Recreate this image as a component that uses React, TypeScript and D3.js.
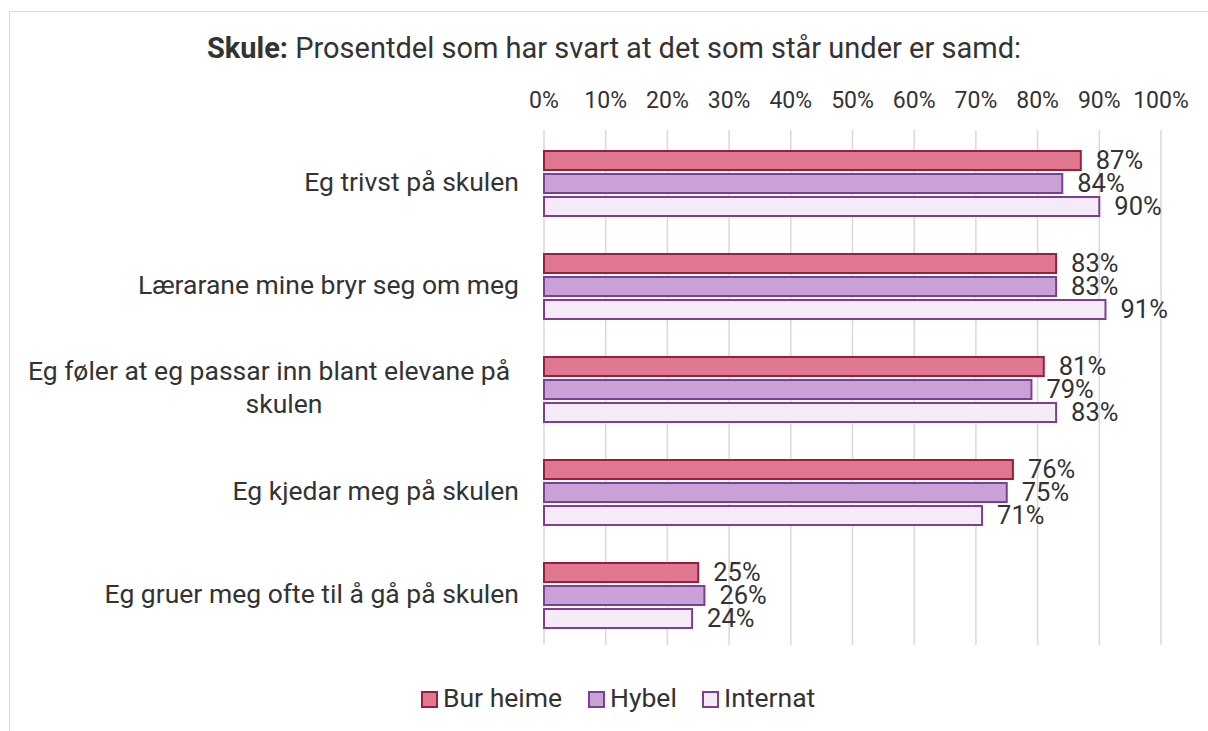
import React from 'react';
import * as d3 from 'd3';

const categories = [
  ['Eg trivst på skulen'],
  ['Lærarane mine bryr seg om meg'],
  ['Eg føler at eg passar inn blant elevane på', 'skulen'],
  ['Eg kjedar meg på skulen'],
  ['Eg gruer meg ofte til å gå på skulen'],
];
const seriesNames = ['Bur heime', 'Hybel', 'Internat'];
const burHeime = [0.87, 0.83, 0.81, 0.76, 0.25];
const hybel = [0.84, 0.83, 0.79, 0.75, 0.26];
const internat = [0.9, 0.91, 0.83, 0.71, 0.24];
const ticks = [0, 0.1, 0.2, 0.3, 0.4, 0.5, 0.6, 0.7, 0.8, 0.9, 1];

const fills = ['#e07790', '#c9a1d7', '#f5ebf8'];
const strokes = ['#9a1f3d', '#7d3f96', '#7d3f96'];

const font = 'Roboto, sans-serif';
const textColor = '#333333';

export default function App() {
  const width = 1208;
  const height = 731;
  const values = [burHeime, hybel, internat];

  const xScale = d3.scaleLinear().domain([0, 1]).range([544, 1161]);
  const yScale = d3.scaleBand<number>()
    .domain(d3.range(categories.length))
    .range([130, 645]);
  const inner = d3.scaleBand<number>()
    .domain(d3.range(seriesNames.length))
    .range([2, yScale.bandwidth() + 2])
    .paddingInner(0.174)
    .paddingOuter(0.826);
  const pct = d3.format('.0%');

  // legend swatch / label positions
  const legendX = [422, 589, 703];

  return (
    <svg width={width} height={height} style={{ position: 'absolute', left: 0, top: 0 }}>
      <rect x={0} y={0} width={width} height={height} fill="#fff" />
      <rect x={9.5} y={11.5} width={width + 20} height={height + 20} fill="#fff" stroke="#d9d9d9" />

      <text x={614} y={58} textAnchor="middle" fontFamily={font} fontSize={29} fill={textColor}>
        <tspan fontWeight="bold">Skule:</tspan> Prosentdel som har svart at det som står under er samd:
      </text>

      {ticks.map((t) => (
        <g key={t}>
          <line x1={xScale(t)} x2={xScale(t)} y1={130} y2={645} stroke="#d9d9d9" strokeWidth={1.5} />
          <text x={xScale(t)} y={108} textAnchor="middle" fontFamily={font} fontSize={23} fill={textColor}>
            {pct(t)}
          </text>
        </g>
      ))}

      {categories.map((lines, i) => {
        const cy = (yScale(i) ?? 0) + yScale.bandwidth() / 2;
        if (lines.length === 1) {
          return (
            <text key={i} x={519} y={cy} dy="0.35em" textAnchor="end" fontFamily={font} fontSize={26.5} fill={textColor}>
              {lines[0]}
            </text>
          );
        }
        return (
          <text key={i} y={cy - 16.5} textAnchor="middle" fontFamily={font} fontSize={26.5} fill={textColor}>
            {lines.map((l, j) => (
              <tspan key={j} x={j === 0 ? 269 : 284} dy={j === 0 ? '0.35em' : 33}>{l}</tspan>
            ))}
          </text>
        );
      })}

      {values.map((series, s) => (
        <g key={s}>
          {series.map((v, i) => {
            const y = (yScale(i) ?? 0) + (inner(s) ?? 0);
            return (
              <g key={i}>
                <rect
                  x={xScale(0)}
                  y={y}
                  width={xScale(v) - xScale(0)}
                  height={inner.bandwidth()}
                  fill={fills[s]}
                  stroke={strokes[s]}
                  strokeWidth={2}
                />
                <text
                  x={xScale(v) + 15}
                  y={y + inner.bandwidth() / 2}
                  dy="0.35em"
                  fontFamily={font}
                  fontSize={25.5}
                  fill={textColor}
                >
                  {pct(v)}
                </text>
              </g>
            );
          })}
        </g>
      ))}

      {seriesNames.map((name, s) => (
        <g key={name}>
          <rect x={legendX[s]} y={692} width={15} height={15} fill={fills[s]} stroke={strokes[s]} strokeWidth={2} />
          <text x={legendX[s] + 21} y={707} fontFamily={font} fontSize={26.5} fill={textColor}>
            {name}
          </text>
        </g>
      ))}
    </svg>
  );
}
